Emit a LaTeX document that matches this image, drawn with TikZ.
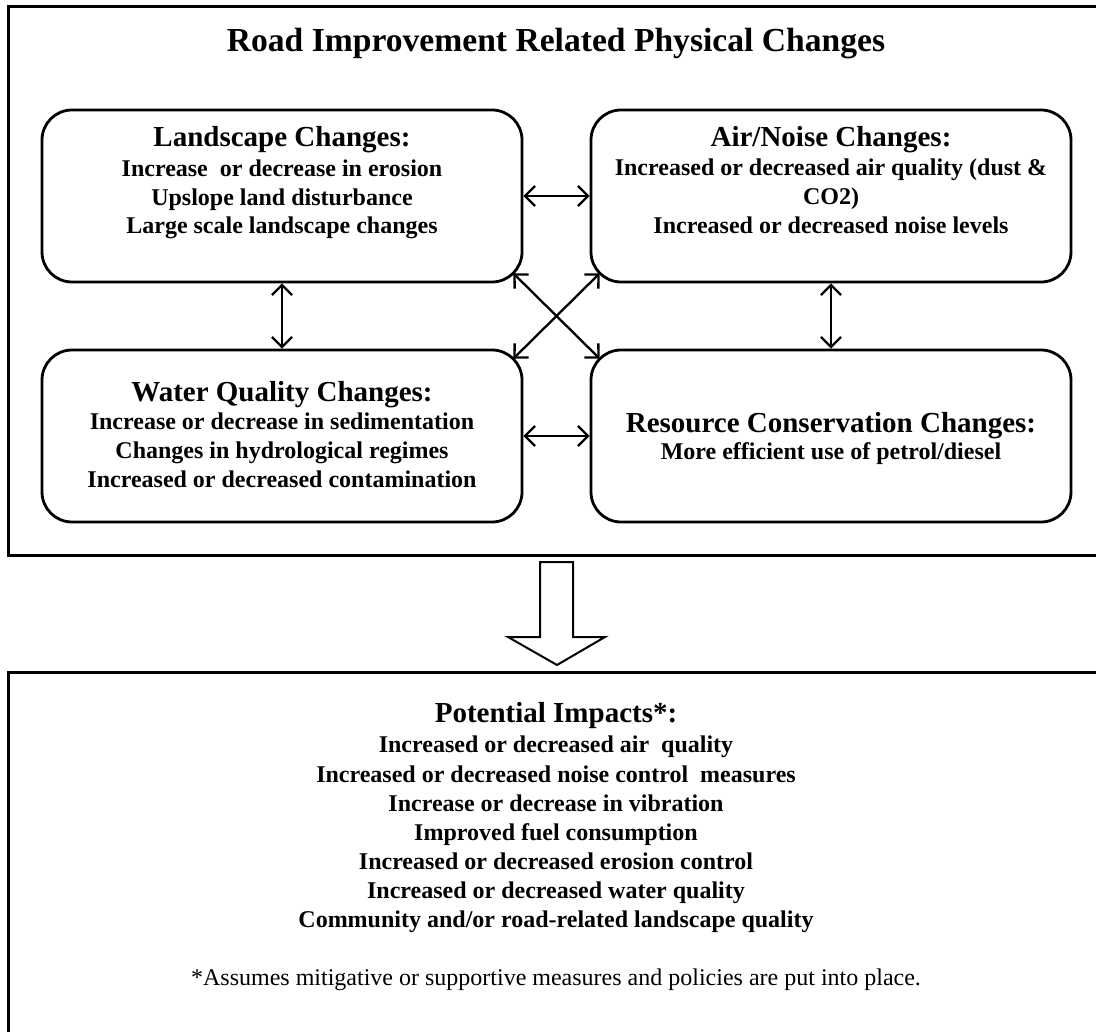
\documentclass[tikz,border=0pt]{standalone}
\usepackage{fontspec}
\setmainfont{Liberation Serif}
\usetikzlibrary{arrows.meta,calc}
\begin{document}
\begin{tikzpicture}[x=1pt,y=-1pt,
  frame/.style={draw, line width=3pt},
  change/.style={draw, line width=2.8pt, rounded corners=30pt, inner sep=0pt,
                 minimum width=480pt, minimum height=172pt},
  link/.style={line width=2.3pt,
    {Straight Barb[length=10pt,width=20pt]}-{Straight Barb[length=10pt,width=20pt]}},
  maintitle/.style={font=\fontsize{33.6}{40}\selectfont\bfseries, anchor=base, inner sep=0pt},
  head/.style={font=\fontsize{29}{34}\selectfont\bfseries, anchor=base, inner sep=0pt},
  item/.style={font=\fontsize{24}{29}\selectfont\bfseries, anchor=base, inner sep=0pt},
  note/.style={font=\fontsize{24}{29}\selectfont, anchor=base, inner sep=0pt},
  ]
\useasboundingbox (0,0) rectangle (1096,1032);
\clip (0,0) rectangle (1096,1032);

% outer frames
\draw[frame] (8,7) rectangle (1110,555);
\draw[frame] (8,672) rectangle (1110,1050);

\node[maintitle] (title) at (556,52) {Road Improvement Related Physical Changes};

% the four kinds of physical change
\node[change] (land)  at (282,196) {};
\node[change] (air)   at (831,196) {};
\node[change] (water) at (282,436) {};
\node[change] (res)   at (831,436) {};

\node[head] (land-h) at (282,147) {Landscape Changes:};
\node[item] (land-1) at (282,177) {Increase\ \ or decrease in erosion};
\node[item] (land-2) at (282,206) {Upslope land disturbance};
\node[item] (land-3) at (282,234) {Large scale landscape changes};

\node[head] (air-h) at (831,147) {Air/Noise Changes:};
\node[item] (air-1) at (831,176) {Increased or decreased air quality (dust \&};
\node[item] (air-2) at (831,205) {CO2)};
\node[item] (air-3) at (831,234) {Increased or decreased noise levels};

\node[head] (water-h) at (282,402) {Water Quality Changes:};
\node[item] (water-1) at (282,430) {Increase or decrease in sedimentation};
\node[item] (water-2) at (282,458) {Changes in hydrological regimes};
\node[item] (water-3) at (282,487) {Increased or decreased contamination};

\node[head] (res-h) at (831,432) {Resource Conservation Changes:};
\node[item] (res-1) at (831,460) {More efficient use of petrol/diesel};

% links between the changes
\draw[link] (land.east) -- (air.west);
\draw[link] (water.east) -- (res.west);
\draw[link] (land.south) -- (water.north);
\draw[link] (air.south) -- (res.north);
\draw[link] ($(land.south east)+(-10pt,10pt)$) -- ($(res.north west)+(10pt,-10pt)$);
\draw[link] ($(air.south west)+(10pt,10pt)$) -- ($(water.north east)+(-10pt,-10pt)$);

% block arrow down to the impacts
\draw[line width=2pt, line join=miter]
  (540,562) -- (573,562) -- (573,637) -- (605,637) -- (557,665)
  -- (508,637) -- (540,637) -- cycle;

% potential impacts
\node[head] (imp-h) at (556,722) {Potential Impacts*:};
\node[item] (imp-1) at (556,752) {Increased or decreased air\ \ quality};
\node[item] (imp-2) at (556,782) {Increased or decreased noise control\ \ measures};
\node[item] (imp-3) at (556,811) {Increase or decrease in vibration};
\node[item] (imp-4) at (556,840) {Improved fuel consumption};
\node[item] (imp-5) at (556,869) {Increased or decreased erosion control};
\node[item] (imp-6) at (556,898) {Increased or decreased water quality};
\node[item] (imp-7) at (556,927) {Community and/or road-related landscape quality};
\node[note] (imp-n) at (556,985) {*Assumes mitigative or supportive measures and policies are put into place.};
\end{tikzpicture}
\end{document}
